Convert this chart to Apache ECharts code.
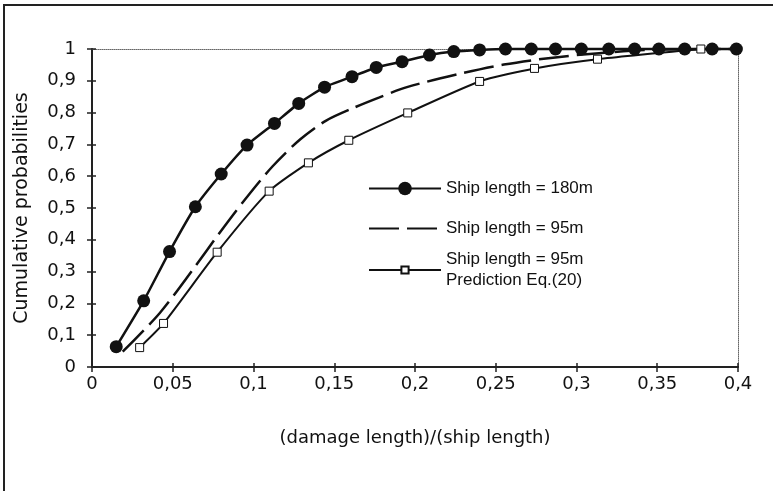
<!DOCTYPE html>
<html>
<head>
<meta charset="utf-8">
<script src="https://cdn.jsdelivr.net/npm/echarts@6/dist/echarts.min.js"></script>
<style>
  html, body { margin: 0; padding: 0; background: #fff; }
  #chart { width: 773px; height: 491px; }
</style>
</head>
<body>
<div id="chart"></div>
<script>
// Ship length = 180m (filled circles)
var ratio180 = [0.015, 0.032, 0.048, 0.064, 0.080, 0.096, 0.113, 0.128, 0.144, 0.161, 0.176, 0.192, 0.209,
  0.224, 0.240, 0.256, 0.272, 0.287, 0.303, 0.320, 0.336, 0.351, 0.367, 0.384, 0.399]
var prob180 = [0.064, 0.208, 0.363, 0.504, 0.607, 0.698, 0.766, 0.829, 0.880, 0.913, 0.942, 0.960, 0.981,
  0.992, 0.997, 1, 1, 1, 1, 1, 1, 1, 1, 1, 1]

// Ship length = 95m (dashed line)
var ratio95 = [0.019, 0.042, 0.063, 0.078, 0.094, 0.112, 0.129, 0.145, 0.162, 0.178, 0.195, 0.226, 0.255,
  0.284, 0.314, 0.345, 0.4]
var prob95 = [0.048, 0.17, 0.31, 0.415, 0.522, 0.632, 0.716, 0.775, 0.815, 0.848, 0.88, 0.92, 0.951,
  0.972, 0.987, 0.997, 1.0]

// Ship length = 95m, Prediction Eq.(20) (open squares)
var ratioPred = [0.0295, 0.0443, 0.0775, 0.1097, 0.134, 0.159, 0.1955, 0.240, 0.274, 0.313, 0.377]
var probPred = [0.061, 0.137, 0.361, 0.553, 0.642, 0.713, 0.799, 0.898, 0.939, 0.968, 1.0]

var seriesNames = ['Ship length = 180m', 'Ship length = 95m', 'Ship length = 95m\nPrediction Eq.(20)']

function pairs(xs, ys) {
  return xs.map(function (x, i) { return [x, ys[i]] })
}
function comma(v) {
  return String(+v.toFixed(2)).replace('.', ',')
}

var ink = '#111'
var tickFont = { fontSize: 18, fontFamily: 'DejaVu Sans', color: ink }
var legendText = { fontSize: 17, fontFamily: 'Liberation Sans', color: ink }

var myChart = echarts.init(document.getElementById('chart'))
var option = {
  animation: false,
  backgroundColor: '#fff',
  grid: { left: 92, right: 35, top: 49, bottom: 124 },
  graphic: [
    {
      type: 'polyline',
      shape: { points: [[4, 491], [4, 5], [773, 5]] },
      style: { stroke: '#222', lineWidth: 2, fill: null },
    },
  ],
  legend: [
    {
      data: [seriesNames[0]], left: 368, top: 180, padding: 0, itemWidth: 72, itemHeight: 17,
      selectedMode: false, textStyle: legendText,
    },
    {
      data: [seriesNames[1]], left: 368, top: 220, padding: 0, itemWidth: 72, itemHeight: 14,
      selectedMode: false, textStyle: legendText,
      itemStyle: { color: 'rgba(0,0,0,0)', borderColor: 'rgba(0,0,0,0)' },
    },
    {
      data: [seriesNames[2]], left: 368, top: 249, padding: 0, itemWidth: 72, itemHeight: 9,
      selectedMode: false, textStyle: Object.assign({ lineHeight: 21 }, legendText),
    },
  ],
  xAxis: [
    {
      type: 'value', min: 0, max: 0.4, interval: 0.05, position: 'bottom',
      axisLine: { show: true, onZero: false, lineStyle: { color: '#222', width: 2 } },
      axisTick: { show: true, length: 5, lineStyle: { color: '#222', width: 1.5 } },
      axisLabel: Object.assign({ margin: 8, formatter: comma }, tickFont),
      splitLine: { show: false },
      name: '(damage length)/(ship length)', nameLocation: 'middle', nameGap: 62,
      nameTextStyle: tickFont,
    },
    {
      type: 'value', min: 0, max: 0.4, interval: 0.05, position: 'bottom',
      axisLine: { show: false, onZero: false },
      axisTick: { show: true, inside: true, length: 4, lineStyle: { color: '#222', width: 1.5 } },
      axisLabel: { show: false }, splitLine: { show: false },
    },
    {
      type: 'value', min: 0, max: 0.4, interval: 0.05, position: 'top',
      axisLine: { show: true, onZero: false, lineStyle: { color: '#666', width: 1, type: 'dotted' } },
      axisTick: { show: false }, axisLabel: { show: false }, splitLine: { show: false },
    },
  ],
  yAxis: [
    {
      type: 'value', min: 0, max: 1, interval: 0.1, position: 'left',
      axisLine: { show: true, onZero: false, lineStyle: { color: '#222', width: 2 } },
      axisTick: { show: true, length: 5, lineStyle: { color: '#222', width: 1.5 } },
      axisLabel: Object.assign({ margin: 16, formatter: comma }, tickFont),
      splitLine: { show: false },
      name: 'Cumulative probabilities', nameLocation: 'middle', nameGap: 60,
      nameTextStyle: { fontSize: 19, fontFamily: 'DejaVu Sans', color: ink },
    },
    {
      type: 'value', min: 0, max: 1, interval: 0.1, position: 'left',
      axisLine: { show: false, onZero: false },
      axisTick: { show: true, inside: true, length: 4, lineStyle: { color: '#222', width: 1.5 } },
      axisLabel: { show: false }, splitLine: { show: false },
    },
    {
      type: 'value', min: 0, max: 1, interval: 0.1, position: 'right',
      axisLine: { show: true, onZero: false, lineStyle: { color: '#666', width: 1, type: 'dotted' } },
      axisTick: { show: false }, axisLabel: { show: false }, splitLine: { show: false },
    },
  ],
  series: [
    {
      name: seriesNames[1], type: 'line', xAxisIndex: 0, yAxisIndex: 0,
      data: pairs(ratio95, prob95), smooth: 0.3, symbol: 'none', clip: false,
      lineStyle: { color: ink, width: 2.5, type: [30, 8] },
    },
    {
      name: seriesNames[2], type: 'line', xAxisIndex: 0, yAxisIndex: 0,
      data: pairs(ratioPred, probPred), smooth: 0.2, symbol: 'rect', symbolSize: 8, clip: false,
      lineStyle: { color: ink, width: 2 },
      itemStyle: { color: '#fff', borderColor: ink, borderWidth: 1 },
    },
    {
      name: seriesNames[0], type: 'line', xAxisIndex: 0, yAxisIndex: 0,
      data: pairs(ratio180, prob180), smooth: 0.15, symbol: 'circle', symbolSize: 13, clip: false,
      lineStyle: { color: ink, width: 2.5 },
      itemStyle: { color: ink },
    },
  ],
}
myChart.setOption(option)
</script>
</body>
</html>
